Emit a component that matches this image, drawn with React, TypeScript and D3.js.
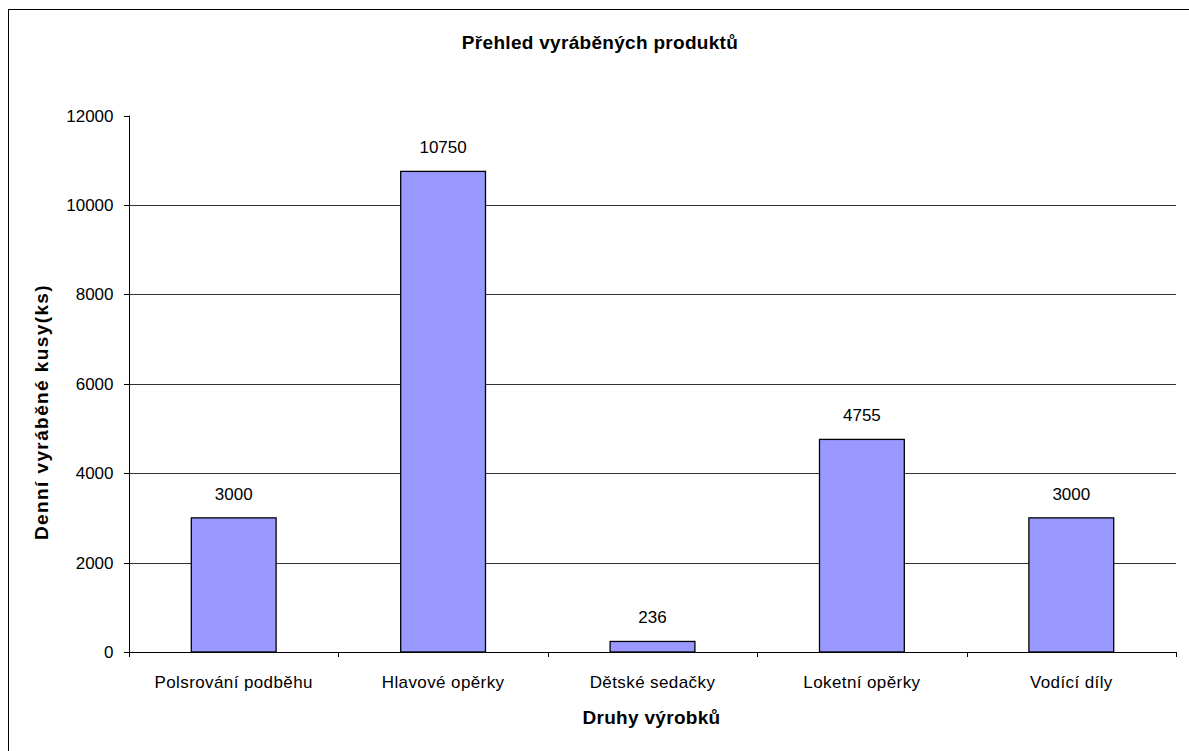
import React from "react";
import * as d3 from "d3";

const categories = ["Polsrování podběhu", "Hlavové opěrky", "Dětské sedačky", "Loketní opěrky", "Vodící díly"];
const values = [3000, 10750, 236, 4755, 3000];
const yTicks = [0, 2000, 4000, 6000, 8000, 10000, 12000];

const W = 1189;
const H = 751;
const plot = { left: 129, right: 1176, top: 115.5, bottom: 652 };
const font = "'Liberation Sans', Arial, sans-serif";

export default function App() {
  const x = d3.scaleBand<string>().domain(categories).range([plot.left, plot.right]).paddingInner(0).paddingOuter(0);
  const y = d3.scaleLinear().domain([0, 12000]).range([plot.bottom, plot.top]);
  const bw = x.bandwidth() * 0.405;
  const boundaries = d3.range(categories.length + 1).map((i) => plot.left + i * x.step());

  return (
    <svg width={W} height={H} style={{ position: "absolute", left: 0, top: 0, display: "block" }} fontFamily={font}>
      <rect x={0} y={0} width={W} height={H} fill="#fff" />
      <rect x={8.5} y={9.5} width={W + 20} height={H + 20} fill="none" stroke="#000" strokeWidth={1} />
      <text x={600} y={49} textAnchor="middle" fontSize={19} fontWeight="bold" letterSpacing={0.3}>Přehled vyráběných produktů</text>

      {yTicks.filter((t) => t > 0 && t < 12000).map((t) => (
        <line key={"g" + t} x1={plot.left} x2={plot.right} y1={Math.round(y(t)) + 0.5} y2={Math.round(y(t)) + 0.5} stroke="#333" strokeWidth={1} />
      ))}

      {categories.map((c, i) => {
        const cx = (x(c) as number) + x.bandwidth() / 2;
        const top = y(values[i]);
        return (
          <g key={c}>
            <rect x={cx - bw / 2} y={top} width={bw} height={plot.bottom - top} fill="#9999FF" stroke="#000" strokeWidth={1.3} />
            <text x={cx} y={top - 18} textAnchor="middle" fontSize={17}>{values[i]}</text>
            <text x={cx} y={688} textAnchor="middle" fontSize={17} letterSpacing={0.4}>{c}</text>
          </g>
        );
      })}

      <line x1={plot.left + 0.5} x2={plot.left + 0.5} y1={plot.top} y2={plot.bottom + 5} stroke="#000" />
      <line x1={plot.left} x2={plot.right} y1={plot.bottom + 0.5} y2={plot.bottom + 0.5} stroke="#000" />
      {yTicks.map((t) => (
        <g key={"t" + t}>
          <line x1={plot.left - 5} x2={plot.left} y1={Math.round(y(t)) + 0.5} y2={Math.round(y(t)) + 0.5} stroke="#000" />
          <text x={113.5} y={y(t) + 6} textAnchor="end" fontSize={17}>{t}</text>
        </g>
      ))}
      {boundaries.map((b, i) => (
        <line key={"b" + i} x1={Math.round(b) + 0.5} x2={Math.round(b) + 0.5} y1={plot.bottom} y2={plot.bottom + 5} stroke="#000" />
      ))}

      <text x={651.5} y={724} textAnchor="middle" fontSize={19} fontWeight="bold" letterSpacing={0.3}>Druhy výrobků</text>
      <text transform={`translate(48,412) rotate(-90)`} textAnchor="middle" fontSize={19} fontWeight="bold" letterSpacing={1.4}>Denní vyráběné kusy(ks)</text>
    </svg>
  );
}
